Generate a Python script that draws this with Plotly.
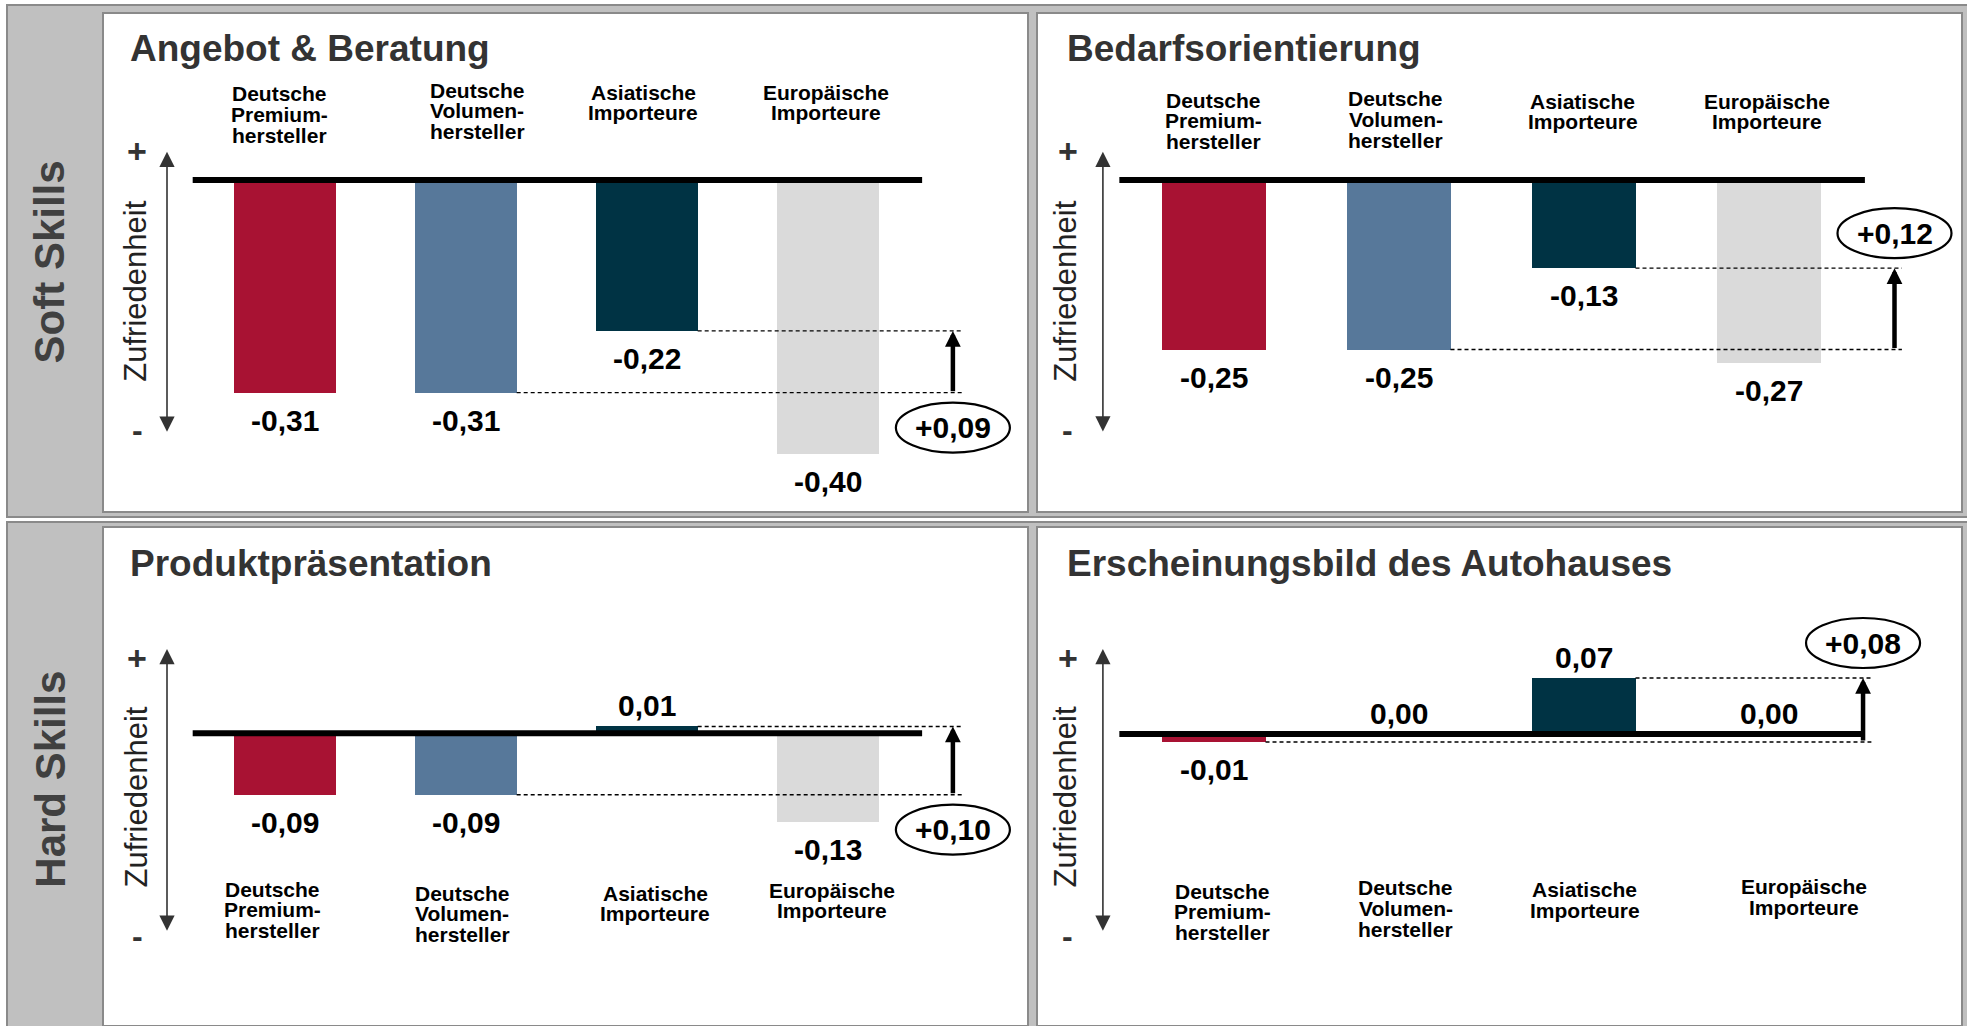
import plotly.graph_objects as go

# ---------------------------------------------------------------- data
categories = [
    "Deutsche\nPremium-\nhersteller",
    "Deutsche\nVolumen-\nhersteller",
    "Asiatische\nImporteure",
    "Europäische\nImporteure",
]
titles = [
    "Angebot & Beratung",
    "Bedarfsorientierung",
    "Produktpräsentation",
    "Erscheinungsbild des Autohauses",
]
values_angebot = [-0.31, -0.31, -0.22, -0.40]
values_bedarf = [-0.25, -0.25, -0.13, -0.27]
values_produkt = [-0.09, -0.09, 0.01, -0.13]
values_erscheinung = [-0.01, 0.00, 0.07, 0.00]
section_labels = ["Soft Skills", "Hard Skills"]
axis_label = "Zufriedenheit"

series = [values_angebot, values_bedarf, values_produkt, values_erscheinung]

# ---------------------------------------------------------------- styling
W, H = 1967, 1026
BAR_COLORS = ["#A81233", "#57789A", "#003344", "#DADADA"]
FONT = "Liberation Sans, Arial, Helvetica, sans-serif"
FRAME_FILL = "#C0C0C0"
FRAME_LINE = "#8A8A8A"
BAR_W = 0.56


def px(x):
    return x / W


def py(y):
    return 1 - y / H


# panel geometry in screen pixels
panels = [
    dict(box=(103, 13, 1028, 512), bar0=285, step=181, zero=180, scale=686,
         arrow_x=3.69, dash_end=3.74, badge="below", title_dx=25, title_y=48.5,
         lab_y=[94, 90, 92, 92], lab_dx=[-6, 11, -4, -2],
         axis=(167, 151.7, 433.3), plus=(137, 150.7), minus=(137, 429.5),
         zuf=(136, 291.7)),
    dict(box=(1037, 13, 1962, 512), bar0=1213.7, step=185, zero=180, scale=678,
         arrow_x=3.68, dash_end=3.72, badge="above", title_dx=28, title_y=48.5,
         lab_y=[100, 99, 101, 101], lab_dx=[0, -3, -1, -2],
         axis=(1102.9, 151.7, 433.0), plus=(1067.6, 150.7), minus=(1067.6, 429.5),
         zuf=(1065.9, 290.8)),
    dict(box=(103, 527, 1028, 1026), bar0=285, step=181, zero=733.3, scale=682,
         arrow_x=3.69, dash_end=3.74, badge="below", title_dx=25, title_y=563.5,
         lab_y=[889, 893, 893, 890], lab_dx=[-13, -4, 8, 4],
         axis=(167, 649, 932.3), plus=(137, 657.7), minus=(137, 935.5),
         zuf=(136, 797.5)),
    dict(box=(1037, 527, 1962, 1026), bar0=1213.7, step=185, zero=734, scale=800,
         arrow_x=3.51, dash_end=3.555, badge="above", title_dx=28, title_y=563.5,
         lab_y=[891, 887.7, 889.3, 886.7], lab_dx=[9, 7, 1, 35],
         axis=(1102.9, 649, 932.3), plus=(1067.6, 657.7), minus=(1067.6, 935.5),
         zuf=(1065.9, 796.5)),
]


def fmt(v, sign=False):
    s = f"{v:+.2f}" if sign else f"{v:.2f}"
    return s.replace(".", ",")


fig = go.Figure()
shapes = []
annotations = []
layout_axes = {}

# section frames (grey bands with the row labels) and white panels
for (y0, y1) in [(5, 517), (522, 1040)]:
    shapes.append(dict(type="rect", xref="paper", yref="paper", layer="below",
                       x0=px(7), x1=px(1980), y0=py(y1), y1=py(y0),
                       fillcolor=FRAME_FILL, line=dict(color=FRAME_LINE, width=2)))
for p in panels:
    bx0, by0, bx1, by1 = p["box"]
    shapes.append(dict(type="rect", xref="paper", yref="paper", layer="below",
                       x0=px(bx0), x1=px(bx1), y0=py(min(by1, 1040)), y1=py(by0),
                       fillcolor="white", line=dict(color=FRAME_LINE, width=2)))

for label, yc in zip(section_labels, [261.7, 779]):
    annotations.append(dict(text=label, xref="paper", yref="paper",
                            x=px(49.7), y=py(yc), showarrow=False, textangle=-90,
                            xanchor="center", yanchor="middle",
                            font=dict(family=FONT, size=42, weight="bold", color="#404040")))

for k, (p, vals, title) in enumerate(zip(panels, series, titles)):
    sfx = "" if k == 0 else str(k + 1)
    xr, yr = "x" + sfx, "y" + sfx
    bx0, by0, bx1, by1 = p["box"]

    # axes mapped so category i sits at bar0 + i*step pixels
    x_range = [(bx0 - p["bar0"]) / p["step"], (bx1 - p["bar0"]) / p["step"]]
    y_range = [-(by1 - p["zero"]) / p["scale"], (p["zero"] - by0) / p["scale"]]
    layout_axes["xaxis" + sfx] = dict(domain=[px(bx0), px(bx1)], range=x_range,
                                      visible=False, fixedrange=True, anchor=yr)
    layout_axes["yaxis" + sfx] = dict(domain=[py(by1), py(by0)], range=y_range,
                                      visible=False, fixedrange=True, anchor=xr)

    idx = list(range(len(vals)))
    fig.add_trace(go.Bar(x=idx, y=vals, width=BAR_W, xaxis=xr, yaxis=yr,
                         marker=dict(color=BAR_COLORS, line=dict(width=0)),
                         hoverinfo="skip", showlegend=False))

    # baseline
    shapes.append(dict(type="line", xref=xr, yref=yr, x0=-0.51, x1=3.52, y0=0, y1=0,
                       line=dict(color="black", width=6)))

    # comparison: Deutsche Premiumhersteller vs. Asiatische Importeure
    base = vals[0]
    target = vals[2]
    start_i = max(i for i in (0, 1) if vals[i] == base)
    shapes.append(dict(type="line", xref=xr, yref=yr,
                       x0=start_i + BAR_W / 2, x1=p["dash_end"], y0=base, y1=base,
                       line=dict(color="black", width=1.4, dash="4px,3px")))
    shapes.append(dict(type="line", xref=xr, yref=yr,
                       x0=2 + BAR_W / 2, x1=p["dash_end"], y0=target, y1=target,
                       line=dict(color="black", width=1.4, dash="4px,3px")))
    annotations.append(dict(text="", xref=xr, yref=yr, axref=xr, ayref=yr,
                            x=p["arrow_x"], y=target, ax=p["arrow_x"], ay=base,
                            showarrow=True, arrowhead=2, arrowsize=0.7, arrowwidth=4.5,
                            arrowcolor="black", standoff=0))
    if p["badge"] == "below":
        anchor_v, off = base, -35
    else:
        anchor_v, off = target, 35
    shapes.append(dict(type="circle", xref=xr, yref=yr, xsizemode="pixel",
                       ysizemode="pixel", xanchor=p["arrow_x"], yanchor=anchor_v,
                       x0=-57, x1=57, y0=off - 25, y1=off + 25,
                       fillcolor="white", line=dict(color="black", width=2.2)))
    annotations.append(dict(text=fmt(target - base, sign=True), xref=xr, yref=yr,
                            x=p["arrow_x"], y=anchor_v, yshift=off, showarrow=False,
                            xanchor="center", yanchor="middle",
                            font=dict(family=FONT, size=30, weight="bold", color="black")))

    # value labels
    for i, v in enumerate(vals):
        annotations.append(dict(text=fmt(v), xref=xr, yref=yr, x=i, y=v,
                                yshift=20.5 if v >= 0 else -27.5, showarrow=False,
                                xanchor="center", yanchor="middle",
                                font=dict(family=FONT, size=30, weight="bold", color="black")))

    # category labels, one annotation per line
    for i, cat in enumerate(categories):
        for j, line in enumerate(cat.split("\n")):
            annotations.append(dict(text=line, xref=xr, yref="paper", x=i,
                                    xshift=p["lab_dx"][i], y=py(p["lab_y"][i] + j * 20.7),
                                    showarrow=False, xanchor="center", yanchor="middle",
                                    font=dict(family=FONT, size=21, weight="bold",
                                              color="black")))

    # panel title
    annotations.append(dict(text=title, xref="paper", yref="paper",
                            x=px(bx0 + p["title_dx"]), y=py(p["title_y"]),
                            showarrow=False, xanchor="left", yanchor="middle",
                            font=dict(family=FONT, size=37, weight="bold", color="#333333")))

    # satisfaction scale: double arrow with + / - and caption
    ax_x, ax_top, ax_bot = p["axis"]
    annotations.append(dict(text="", xref="paper", yref="paper", x=px(ax_x), y=py(ax_top),
                            ax=0, ay=ax_bot - ax_top, showarrow=True,
                            arrowside="end+start", arrowhead=2, startarrowhead=2,
                            arrowsize=1.9, startarrowsize=1.9, arrowwidth=1.6,
                            arrowcolor="#333333", standoff=0, startstandoff=0))
    annotations.append(dict(text="+", xref="paper", yref="paper", x=px(p["plus"][0]),
                            y=py(p["plus"][1]), showarrow=False,
                            xanchor="center", yanchor="middle",
                            font=dict(family=FONT, size=34, weight="bold", color="#333333")))
    annotations.append(dict(text="-", xref="paper", yref="paper", x=px(p["minus"][0]),
                            y=py(p["minus"][1]), showarrow=False,
                            xanchor="center", yanchor="middle",
                            font=dict(family=FONT, size=32, weight="bold", color="#333333")))
    annotations.append(dict(text=axis_label, xref="paper", yref="paper",
                            x=px(p["zuf"][0]), y=py(p["zuf"][1]), showarrow=False,
                            textangle=-90, xanchor="center", yanchor="middle",
                            font=dict(family=FONT, size=31, color="#222222")))

fig.update_layout(
    width=W, height=H,
    margin=dict(l=0, r=0, t=0, b=0, pad=0),
    paper_bgcolor="white",
    plot_bgcolor="rgba(0,0,0,0)",
    showlegend=False,
    bargap=0,
    shapes=shapes,
    annotations=annotations,
    **layout_axes,
)

fig.write_html("out.html", config=dict(displayModeBar=False))
